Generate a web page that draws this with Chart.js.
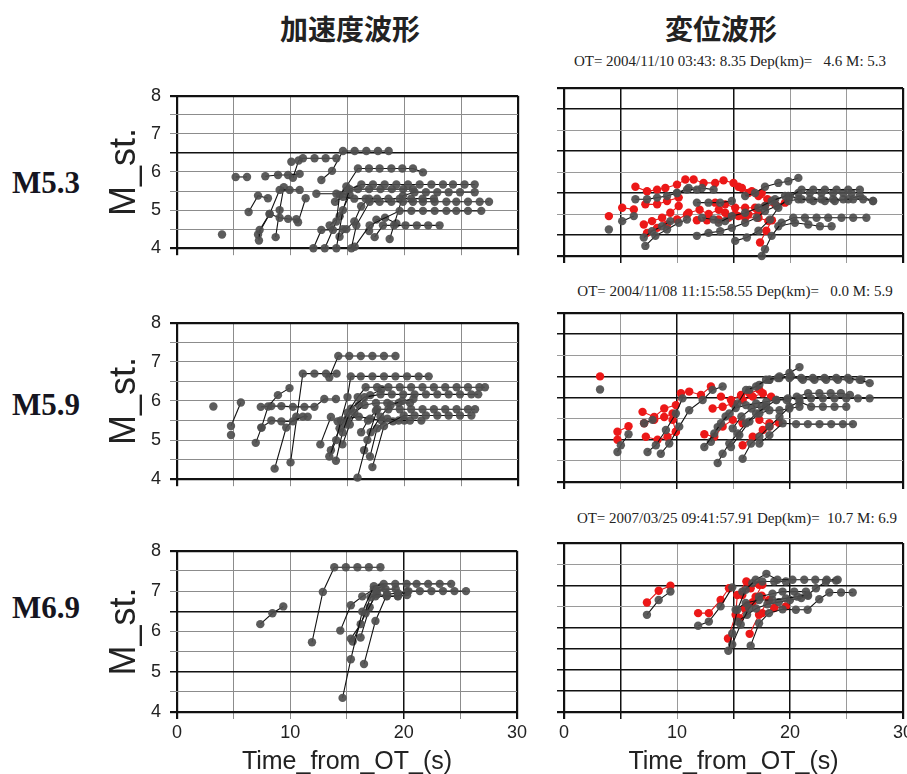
<!DOCTYPE html>
<html lang="ja">
<head>
<meta charset="UTF-8">
<title>M_st. 加速度波形 / 変位波形</title>
<script src="https://cdn.jsdelivr.net/npm/chart.js@4.4.1/dist/chart.umd.min.js"></script>
<style>
  body { margin:0; width:907px; height:774px; overflow:hidden; background:#fff; position:relative; }
  canvas, .lbl { position:absolute; }
  .head { font-family:"Noto Sans CJK JP"; font-weight:bold; font-size:28px; color:#222; transform:translate(-50%,-50%); white-space:nowrap; }
  .row { font-family:"Liberation Serif"; font-weight:bold; font-size:31px; color:#151520; transform:translateY(-50%); }
  .ot { font-family:"Liberation Serif"; font-size:15px; color:#222; white-space:pre; transform:translate(-50%,-50%); }
</style>
</head>
<body>
  <div class="lbl head" style="left:350px;top:28px">加速度波形</div>
  <div class="lbl head" style="left:721px;top:28px">変位波形</div>
  <div class="lbl ot" style="left:730px;top:61px">OT= 2004/11/10 03:43: 8.35 Dep(km)=   4.6 M: 5.3</div>
  <div class="lbl ot" style="left:735px;top:291px">OT= 2004/11/08 11:15:58.55 Dep(km)=   0.0 M: 5.9</div>
  <div class="lbl ot" style="left:737px;top:518px">OT= 2007/03/25 09:41:57.91 Dep(km)=  10.7 M: 6.9</div>
  <div class="lbl row" style="left:12px;top:183px">M5.3</div>
  <div class="lbl row" style="left:12px;top:405px">M5.9</div>
  <div class="lbl row" style="left:12px;top:608px">M6.9</div>

  <canvas id="acc53" width="440" height="192" style="left:90px;top:76px"></canvas>
  <canvas id="acc59" width="440" height="196" style="left:90px;top:303px"></canvas>
  <canvas id="acc69" width="440" height="259" style="left:90px;top:531px"></canvas>
  <canvas id="disp53" width="390" height="192" style="left:540px;top:76px"></canvas>
  <canvas id="disp59" width="390" height="193" style="left:540px;top:301px"></canvas>
  <canvas id="disp69" width="390" height="259" style="left:540px;top:531px"></canvas>

<script>
// tick labels
const xTickLabels = [0, 10, 20, 30];
const yTickLabels = [4, 5, 6, 7, 8];

// each trace: [time from OT (s), M_st.]
// acceleration, M5.3
const accM53 = [
  [[3.96,4.36]],
  [[5.16,5.87],[6.16,5.87]],
  [[6.3,4.95],[7.13,5.38],[8.0,5.31]],
  [[7.21,4.2],[7.27,4.48],[8.15,4.9],[9.03,5.53],[9.91,5.53],[10.79,5.53]],
  [[7.13,4.36],[8.15,4.9],[9.03,4.8],[9.77,4.77],[10.5,4.76]],
  [[8.68,4.29],[9.03,5.0],[9.4,5.6]],
  [[7.77,5.89],[8.89,5.92],[9.77,5.92],[10.79,5.95]],
  [[10.06,6.27]],
  [[10.2,5.85],[10.7,6.3],[11.08,6.36],[12.1,6.36],[13.08,6.36],[14.02,6.36]],
  [[10.65,4.68],[11.32,5.31]],
  [[12.7,5.79],[13.64,6.03],[14.6,6.55],[15.63,6.55],[16.66,6.55],[17.68,6.55],[18.62,6.55]],
  [[12.0,4.0],[12.7,4.48],[13.72,4.48],[14.6,4.5]],
  [[13.0,4.0],[14.02,4.7],[14.31,5.4],[14.9,5.62],[15.92,6.09],[16.89,6.09],[17.83,6.09],[18.86,6.09],[19.82,6.09],[20.76,6.09],[21.64,5.99]],
  [[14.02,4.0],[14.6,5.0],[15.19,5.55],[16.22,5.67],[17.24,5.67],[18.27,5.67],[19.3,5.67],[20.32,5.67],[21.35,5.67],[22.38,5.67],[23.4,5.67],[24.28,5.67],[25.3,5.67],[26.19,5.67]],
  [[15.34,4.0],[15.78,4.6],[16.95,5.22],[17.83,5.22],[18.86,5.22],[19.88,5.22],[20.76,5.22],[21.64,5.22],[22.67,5.22],[23.7,5.22],[24.57,5.22],[25.6,5.22],[26.63,5.22],[27.45,5.22]],
  [[15.63,4.04],[16.95,4.6],[19.59,4.98],[20.62,4.98],[21.64,4.98],[22.67,4.98],[23.7,4.98],[24.57,4.98],[25.6,4.98],[26.77,4.98]],
  [[17.39,4.29],[18.12,4.6],[19.1,4.6],[20.1,4.6],[21.1,4.6],[22.1,4.6],[23.1,4.6]],
  [[18.71,4.24],[19.88,5.38],[20.9,5.47],[21.9,5.47],[22.9,5.47],[23.9,5.47],[24.9,5.47],[26.19,5.47]],
  [[12.26,5.43],[14.02,5.43],[14.9,5.5],[15.92,5.55],[16.9,5.55],[17.9,5.55],[18.9,5.55],[19.9,5.55],[20.76,5.55]],
  [[13.9,5.22],[14.6,5.35],[15.6,5.3],[16.6,5.3],[17.6,5.3],[18.6,5.3],[19.6,5.3],[20.6,5.3],[21.6,5.3],[22.6,5.3]],
  [[13.43,4.6],[14.31,4.84],[15.19,5.4]],
  [[16.9,4.45],[17.54,4.75],[18.3,4.8],[19.3,4.65]],
  [[14.3,4.3],[14.9,4.5],[15.6,4.7],[16.2,5.1],[16.9,5.3]]
];

// acceleration, M5.9
const accM59 = [
  [[3.2,5.86]],
  [[4.75,5.13]],
  [[4.75,5.36],[5.62,5.96]],
  [[6.93,4.93],[7.43,5.32],[8.01,5.86],[8.88,6.15],[9.9,6.33]],
  [[7.37,5.85],[8.3,5.87],[9.18,5.87],[10.2,5.85],[11.21,5.85],[12.09,5.85],[12.96,6.05],[13.98,6.05]],
  [[7.43,5.32],[8.3,5.5],[9.18,5.48],[10.2,5.48],[11.07,5.6],[11.5,5.6]],
  [[8.59,4.27],[9.61,5.32],[10.49,5.6]],
  [[9.99,4.43],[11.07,6.7],[12.09,6.7],[13.11,6.7],[14.04,6.7]],
  [[13.4,6.6],[14.19,7.15],[15.15,7.15],[16.17,7.15],[17.19,7.15],[18.21,7.15],[19.22,7.15]],
  [[12.61,4.89],[13.54,5.59]],
  [[13.4,4.58],[14.0,5.0],[14.42,5.5],[15.0,6.1],[15.29,6.63],[16.17,6.63],[17.19,6.63],[18.21,6.63],[19.22,6.63],[20.24,6.63],[21.26,6.63],[22.14,6.63]],
  [[13.54,4.74],[14.3,5.3],[15.0,5.7],[15.9,6.1],[16.6,6.35],[17.6,6.35],[18.6,6.35],[19.6,6.35],[20.6,6.35],[21.6,6.35],[22.6,6.35],[23.6,6.35],[24.6,6.35],[25.6,6.35],[26.6,6.35],[27.09,6.35]],
  [[13.98,4.47],[14.56,5.2],[15.3,5.8],[16.5,6.1],[17.91,6.17],[18.9,6.17],[19.9,6.17],[20.9,6.17],[21.9,6.17],[22.9,6.17],[23.9,6.17],[24.9,6.17],[25.9,6.17],[26.5,6.17]],
  [[15.88,4.04],[16.75,5.0],[17.62,5.79],[18.6,5.79],[19.6,5.79],[20.6,5.79],[21.6,5.79],[22.6,5.79],[23.6,5.79],[24.6,5.79],[25.6,5.79],[26.22,5.79]],
  [[17.19,4.31],[18.21,5.36],[19.95,5.63],[20.9,5.63],[21.9,5.63],[22.9,5.63],[23.9,5.63],[24.9,5.63],[25.9,5.63]],
  [[16.46,4.74],[17.04,5.2],[17.9,5.6],[18.8,5.9],[19.8,6.0],[20.8,6.05]],
  [[16.98,4.58],[17.6,5.3],[18.5,5.55],[19.5,5.5],[20.5,5.5],[21.5,5.5]],
  [[14.13,5.48],[15.0,5.55],[16.0,5.6],[17.0,5.55],[18.0,5.5],[19.0,5.48],[20.0,5.5]],
  [[14.86,5.4],[15.6,5.7],[16.5,5.9],[17.5,5.95],[18.5,5.95],[19.5,5.95],[20.5,5.95]],
  [[14.56,4.89],[15.2,5.4],[16.0,5.9],[17.0,6.15],[18.0,6.3]],
  [[16.2,5.2],[16.8,5.5],[17.5,5.75]]
];

// acceleration, M6.9
const accM69 = [
  [[7.35,6.18],[8.42,6.45],[9.38,6.62]],
  [[11.91,5.73],[12.87,6.98],[13.88,7.59],[14.9,7.59],[15.92,7.59],[16.93,7.59],[17.95,7.59]],
  [[14.61,4.35],[15.34,5.31],[16.35,6.49],[17.37,7.12],[18.24,7.18],[19.26,7.18],[20.27,7.18],[21.14,7.18],[22.16,7.18],[23.18,7.18],[24.19,7.18]],
  [[14.41,6.02],[15.34,6.65],[16.35,6.87],[17.37,7.04],[18.0,7.1]],
  [[15.34,5.82],[16.21,6.18],[17.08,6.85],[17.66,6.92],[18.53,6.88],[19.49,6.88],[20.42,7.0],[21.43,7.0],[22.45,7.0],[23.47,7.0],[24.48,7.0],[25.5,7.0]],
  [[16.5,5.19],[17.51,6.26],[18.53,6.92],[19.5,6.95],[20.3,6.98]],
  [[15.5,5.75],[16.64,6.45],[17.51,6.87],[18.5,6.87],[19.49,6.87],[20.3,6.9]],
  [[16.2,5.85],[17.0,6.6],[17.6,7.0],[18.4,7.05],[19.3,7.05]]
];

// displacement, M5.3
const dispM53Red = [
  [[3.97,4.95]],
  [[5.15,5.15],[6.18,5.11]],
  [[6.32,5.65],[7.35,5.54],[8.24,5.58],[8.97,5.62],[10.0,5.7],[10.74,5.82],[11.47,5.82],[12.35,5.74],[13.38,5.74],[14.12,5.8],[15.0,5.74],[15.74,5.62],[16.62,5.54],[17.5,5.5]],
  [[7.2,5.23],[8.24,5.23],[9.12,5.31],[10.15,5.39]],
  [[7.06,4.75],[7.79,4.83],[8.68,4.91],[9.41,5.03],[10.15,5.19]],
  [[7.35,4.55],[8.24,4.67],[9.12,4.75],[10.0,4.87],[10.88,4.99]],
  [[11.76,4.85],[12.65,4.85],[13.68,4.87],[14.56,4.91],[15.44,4.95],[16.32,4.99],[17.21,5.03]],
  [[13.38,5.27],[14.26,5.23],[15.15,5.15],[16.03,5.15],[16.91,5.15],[17.79,5.19],[18.68,5.23],[19.56,5.27]],
  [[14.26,5.03],[15.15,4.99],[16.03,4.91],[17.21,4.91],[18.09,4.83]],
  [[17.35,4.32],[17.9,4.6],[18.4,4.85]],
  [[15.44,5.65],[16.32,5.5],[17.21,5.43],[18.0,5.35]],
  [[11.03,5.03],[12.0,5.1],[12.8,5.0],[13.7,5.1]]
];
const dispM53Gray = [
  [[3.97,4.63]],
  [[5.15,4.83],[6.18,4.95]],
  [[6.32,5.35],[7.35,5.35],[8.24,5.39],[9.12,5.43],[10.0,5.5],[10.88,5.58],[11.76,5.58]],
  [[7.2,4.24],[8.09,4.48],[9.12,4.63],[10.15,4.79],[10.88,4.87]],
  [[7.06,4.44],[7.79,4.59],[8.68,4.71],[9.41,4.83]],
  [[10.0,5.5],[11.03,5.62],[12.21,5.62],[13.24,5.58]],
  [[11.76,4.48],[12.79,4.55],[13.82,4.59],[14.85,4.67],[16.03,4.79],[17.06,4.91],[17.79,5.07],[18.82,5.19],[19.85,5.31],[20.74,5.35],[21.76,5.35],[22.79,5.35],[23.82,5.35],[24.71,5.35],[25.59,5.35],[26.47,5.35],[27.35,5.31]],
  [[15.15,4.36],[16.18,4.44],[17.21,4.6],[18.24,4.87],[18.97,5.15],[20.0,5.42],[21.03,5.58],[22.06,5.58],[23.09,5.58],[24.12,5.58],[25.15,5.58],[26.18,5.58]],
  [[17.5,4.0],[17.79,4.16],[18.38,4.48],[19.26,4.79],[20.29,4.91],[21.32,4.91],[22.35,4.91],[23.38,4.91],[24.56,4.91],[25.59,4.91],[26.76,4.91]],
  [[13.68,4.79],[14.85,4.95],[16.03,5.03],[17.21,5.15],[18.38,5.31],[19.56,5.43],[20.74,5.5],[21.76,5.5],[22.79,5.5],[23.82,5.5],[24.71,5.5],[25.44,5.5]],
  [[16.03,5.43],[16.91,5.5],[17.79,5.65],[18.97,5.74],[19.85,5.78],[20.74,5.86]],
  [[17.79,5.19],[18.68,5.35],[19.85,5.43],[21.03,5.35],[22.06,5.31],[23.09,5.31],[23.97,5.31],[25.15,5.35],[26.18,5.43],[27.35,5.31]],
  [[18.97,4.71],[20.44,4.79],[21.62,4.75],[22.65,4.71],[23.68,4.71]],
  [[11.76,5.27],[12.79,5.27],[13.82,5.27],[14.85,5.31]],
  [[12.21,4.91],[13.24,4.87],[14.26,4.83]]
];

// displacement, M5.9
const dispM59Red = [
  [[3.19,6.5]],
  [[4.73,5.19],[5.71,5.32]],
  [[4.73,5.0]],
  [[6.95,5.66],[7.98,5.54],[8.87,5.74],[9.9,5.82],[10.35,6.1],[11.08,6.14],[12.12,6.06],[13.0,6.26]],
  [[7.09,5.39],[7.98,5.47],[8.87,5.54],[9.61,5.62]],
  [[7.24,5.07],[8.28,5.0],[9.16,5.07],[9.9,5.19]],
  [[12.42,5.13],[13.3,5.07],[14.04,5.31],[14.93,5.47],[15.81,5.39]],
  [[13.15,5.74],[14.04,5.78],[14.93,5.86],[15.81,5.94],[16.7,6.02],[17.59,6.1],[18.33,6.02]],
  [[13.89,6.02],[14.78,5.94],[15.67,6.06],[16.41,6.1],[17.29,6.18]],
  [[15.81,4.87],[16.7,5.07],[17.59,5.23],[18.18,5.39]],
  [[17.29,5.47],[18.18,5.31],[19.0,5.4]],
  [[9.61,5.47],[9.9,5.19]]
];
const dispM59Gray = [
  [[3.19,6.19]],
  [[4.73,4.71],[5.03,4.87],[5.71,5.13]],
  [[7.39,4.71],[8.13,4.87],[9.02,5.23],[9.9,5.62],[10.49,5.98]],
  [[8.57,4.67],[9.31,4.91],[10.2,5.31],[11.08,5.7],[12.27,5.94],[13.15,6.18],[14.04,6.26]],
  [[7.09,5.39],[7.83,5.47]],
  [[12.42,4.83],[13.3,5.15],[13.89,5.39],[14.63,5.62],[15.37,5.86],[16.11,6.18],[17.0,6.26],[17.88,6.42],[18.92,6.46],[19.95,6.46],[20.99,6.46],[22.02,6.46],[23.05,6.46],[24.09,6.46],[25.12,6.46],[26.16,6.42],[27.05,6.34]],
  [[13.6,4.45],[14.04,4.67],[14.63,4.91],[15.37,5.15],[16.11,5.39],[17.0,5.62],[17.88,5.78],[18.77,5.94],[19.81,5.98],[20.84,5.98],[21.87,5.98],[22.91,5.98],[23.94,5.98],[24.98,5.98],[26.01,5.98],[27.05,5.98]],
  [[15.81,4.55],[16.55,4.91],[17.29,5.07],[18.18,5.31],[19.07,5.54],[19.95,5.78],[20.84,5.9],[21.87,5.78],[22.91,5.78],[23.94,5.78],[24.98,5.78]],
  [[14.78,4.83],[15.52,5.11],[16.41,5.43],[17.29,5.62],[18.18,5.7],[19.07,5.7],[19.95,5.74],[20.84,5.78]],
  [[17.29,4.91],[18.18,5.11],[19.36,5.39],[20.54,5.37],[21.58,5.37],[22.61,5.37],[23.65,5.37],[24.68,5.37],[25.57,5.37]],
  [[18.18,6.42],[19.07,6.5],[19.95,6.58],[20.84,6.72]],
  [[16.41,6.18],[17.29,6.3],[18.18,6.42],[19.07,6.46],[20.1,6.5],[21.14,6.42],[22.17,6.42],[23.2,6.42],[24.24,6.42],[25.27,6.42],[26.31,6.42]],
  [[13.0,4.95],[13.6,5.3],[14.3,5.55],[15.2,5.75],[16.1,5.82],[17.0,5.86],[17.9,5.9],[18.8,5.94],[19.7,5.94],[20.6,6.02],[21.6,6.1],[22.6,6.1],[23.6,6.1],[24.5,6.1],[25.3,6.06]],
  [[14.93,5.27],[15.7,5.55],[16.6,5.74],[17.5,5.78]]
];

// displacement, M6.9
const dispM69Red = [
  [[7.34,6.59],[8.38,6.87],[9.42,6.99]],
  [[11.87,6.34],[12.82,6.34],[13.86,6.65],[14.6,6.93]],
  [[14.51,5.74],[15.19,6.3],[15.34,6.77],[16.14,7.09]],
  [[15.55,6.22],[16.23,6.53],[16.96,6.73],[17.55,7.01]],
  [[16.43,5.85],[17.26,6.3],[18.14,6.65]],
  [[15.78,6.77],[16.52,6.93],[17.26,7.01]],
  [[17.55,6.34],[18.6,6.46],[19.63,6.5]],
  [[16.0,6.45],[16.7,6.6],[17.5,6.75]]
];
const dispM69Gray = [
  [[7.34,6.3],[8.38,6.65],[9.42,6.85]],
  [[11.87,6.04],[12.82,6.14],[13.86,6.5],[14.89,6.95]],
  [[14.54,5.45],[14.89,5.86],[15.34,6.42],[16.08,6.89],[16.96,7.13],[17.91,7.27],[18.89,7.13],[20.22,7.13],[21.26,7.13],[22.24,7.13],[23.25,7.13],[24.22,7.13]],
  [[14.89,5.6],[15.64,6.07],[16.38,6.46],[17.26,6.73],[18.45,6.8],[19.34,6.85],[20.37,6.85],[21.41,6.85]],
  [[16.52,5.57],[17.26,6.1],[18.14,6.34],[19.34,6.43],[20.52,6.42],[21.56,6.42],[22.59,6.67],[23.48,6.83],[24.52,6.83],[25.55,6.83]],
  [[15.19,6.42],[16.08,6.58],[17.26,6.65],[18.45,6.65],[19.63,6.69],[20.67,6.73],[21.56,6.77],[22.3,6.93],[23.19,7.09],[24.07,7.11]],
  [[15.78,6.85],[16.67,7.05],[17.55,7.09],[18.6,7.09],[19.63,7.09]],
  [[15.34,6.14],[16.2,6.3],[17.0,6.45],[18.0,6.55],[19.0,6.6],[20.0,6.65],[21.0,6.7],[21.6,6.75]]
];

const AXIS_FONT = "'Liberation Sans', Arial, sans-serif";

function traceSet(trace, dotColor, lineColor) {
  return {
    data: trace.map(p => ({x: p[0], y: p[1]})),
    showLine: true,
    borderColor: lineColor,
    borderWidth: 1.1,
    pointRadius: 4.2,
    pointBorderWidth: 0,
    pointBackgroundColor: dotColor,
    clip: false
  };
}

function gridStyle(dark, edges, light) {
  const val = c => (c.tick ? c.tick.value : null);
  return {
    color: c => (edges.includes(val(c)) || dark.includes(val(c))) ? '#111' : light,
    lineWidth: c => edges.includes(val(c)) ? 2.2 : (dark.includes(val(c)) ? 1.5 : 1),
    tickLength: 7
  };
}

function makePanel(id, redTraces, grayTraces, cfg) {
  const datasets = [];
  grayTraces.forEach(tr => datasets.push(traceSet(tr, 'rgba(78,78,78,0.92)', '#111')));
  redTraces.forEach(tr => datasets.push(traceSet(tr, 'rgb(236,24,24)', '#e41a1a')));

  new Chart(document.getElementById(id), {
    type: 'scatter',
    data: { datasets: datasets },
    options: {
      responsive: false,
      animation: false,
      devicePixelRatio: 1,
      layout: { padding: { top: 12, right: cfg.padRight, bottom: 0, left: 0 } },
      plugins: { legend: { display: false }, tooltip: { enabled: false } },
      scales: {
        x: {
          type: 'linear', min: 0, max: 30,
          afterFit: s => { s.height = cfg.xHeight; },
          border: { display: false },
          grid: gridStyle(cfg.darkX, [0, 30], cfg.light),
          ticks: {
            display: cfg.xLabels, stepSize: 5, autoSkip: false, maxRotation: 0, padding: 3,
            color: '#222', font: { family: AXIS_FONT, size: 18 },
            callback: v => xTickLabels.includes(v) ? String(v) : ''
          },
          title: {
            display: cfg.xLabels, text: 'Time_from_OT_(s)', color: '#222',
            font: { family: AXIS_FONT, size: 25 }, padding: { top: 0, bottom: 13 }
          }
        },
        y: {
          type: 'linear', min: 4, max: 8,
          afterFit: s => { s.width = cfg.yWidth; },
          border: { display: false },
          grid: gridStyle(cfg.darkY, [4, 8], cfg.light),
          ticks: {
            display: cfg.yLabels, stepSize: 0.5, autoSkip: false, padding: 9,
            color: '#222', font: { family: AXIS_FONT, size: 18 },
            callback: v => yTickLabels.includes(v) ? String(v) : ''
          },
          title: {
            display: cfg.yLabels, text: 'M_st.', color: '#222',
            font: { family: AXIS_FONT, size: 36 }, padding: { top: 13, bottom: 0 }
          }
        }
      }
    }
  });
}

const left = { padRight: 12, yWidth: 87, yLabels: true, light: '#8c8c8c' };
const right = { padRight: 27, yWidth: 24, yLabels: false, light: '#9a9a9a' };

makePanel('acc53', [], accM53, Object.assign({}, left, { xHeight: 12, xLabels: false, darkX: [], darkY: [6.5] }));
makePanel('acc59', [], accM59, Object.assign({}, left, { xHeight: 12, xLabels: false, darkX: [], darkY: [] }));
makePanel('acc69', [], accM69, Object.assign({}, left, { xHeight: 78, xLabels: true, darkX: [20], darkY: [6.5, 5] }));
makePanel('disp53', dispM53Red, dispM53Gray, Object.assign({}, right, { xHeight: 12, xLabels: false, darkX: [5, 15], darkY: [7.5, 6.5, 5.5, 4.5] }));
makePanel('disp59', dispM59Red, dispM59Gray, Object.assign({}, right, { xHeight: 12, xLabels: false, darkX: [10, 20], darkY: [7.5, 6.5, 6, 5] }));
makePanel('disp69', dispM69Red, dispM69Gray, Object.assign({}, right, { xHeight: 78, xLabels: true, darkX: [5, 15, 20], darkY: [7, 6, 5.5, 5, 4.5] }));
</script>
</body>
</html>
